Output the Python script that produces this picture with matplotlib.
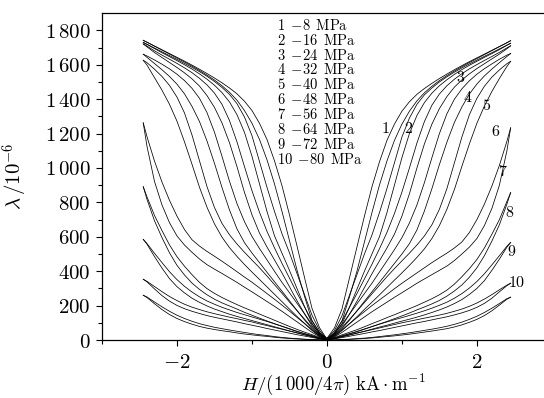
import matplotlib
matplotlib.use('Agg')
import matplotlib.pyplot as plt

plt.rcParams['mathtext.fontset'] = 'cm'
plt.rcParams['font.family'] = 'serif'
plt.rcParams['font.serif'] = ['DejaVu Serif']

# field grid for one half of the loop, |H| in (1000/4pi) kA/m
H_half = [0, 0.1, 0.2, 0.3, 0.4, 0.5, 0.6, 0.7, 0.8, 0.9, 1.0, 1.1, 1.2,
          1.3, 1.4, 1.5, 1.6, 1.7, 1.8, 1.9, 2.0, 2.1, 2.2, 2.3, 2.4, 2.45]

# magnetostriction (1e-6), H > 0 side: inner / outer branch of each loop
r_in = [
    [10, 70, 180, 360, 540, 720, 890, 1035, 1160, 1255, 1330, 1385, 1428, 1462, 1492, 1520, 1546, 1571, 1595, 1618, 1640, 1662, 1684, 1706, 1728, 1740],
    [8, 55, 140, 260, 380, 500, 610, 740, 880, 1030, 1180, 1290, 1370, 1425, 1465, 1500, 1530, 1557, 1582, 1605, 1627, 1649, 1670, 1692, 1714, 1725],
    [6, 45, 110, 190, 270, 355, 440, 530, 625, 735, 860, 1000, 1145, 1270, 1365, 1430, 1478, 1516, 1548, 1576, 1601, 1625, 1648, 1672, 1698, 1710],
    [5, 38, 90, 150, 210, 270, 330, 395, 460, 525, 595, 680, 785, 915, 1060, 1200, 1315, 1400, 1460, 1507, 1545, 1577, 1605, 1632, 1656, 1665],
    [4, 30, 72, 120, 168, 218, 268, 318, 368, 415, 460, 505, 552, 605, 670, 760, 880, 1030, 1180, 1310, 1405, 1475, 1528, 1570, 1606, 1620],
    [3, 25, 58, 94, 130, 165, 200, 233, 265, 298, 330, 360, 390, 420, 450, 478, 505, 535, 570, 625, 700, 790, 895, 1015, 1155, 1233],
    [2, 14, 30, 45, 60, 77, 95, 112, 130, 147, 165, 182, 200, 220, 240, 263, 290, 325, 368, 415, 468, 535, 615, 700, 805, 857],
    [2, 12, 25, 37, 50, 64, 78, 92, 105, 118, 130, 143, 156, 170, 185, 202, 220, 243, 270, 302, 340, 385, 437, 490, 545, 567],
    [1, 10, 20, 30, 40, 50, 60, 70, 80, 90, 100, 109, 118, 127, 136, 145, 155, 167, 180, 196, 215, 238, 264, 292, 319, 330],
    [0, 1, 3, 5, 8, 11, 15, 20, 25, 30, 36, 42, 49, 56, 63, 71, 80, 91, 104, 120, 138, 160, 185, 212, 240, 249],
]
r_out = [
    [5, 40, 110, 250, 400, 570, 740, 900, 1040, 1160, 1255, 1330, 1390, 1437, 1475, 1508, 1537, 1564, 1589, 1613, 1636, 1659, 1682, 1705, 1728, 1740],
    [5, 35, 95, 190, 295, 400, 500, 600, 740, 900, 1060, 1200, 1305, 1380, 1435, 1478, 1513, 1544, 1572, 1597, 1620, 1643, 1665, 1688, 1713, 1725],
    [4, 30, 80, 150, 225, 305, 385, 460, 535, 615, 720, 850, 1000, 1140, 1255, 1345, 1415, 1470, 1512, 1547, 1578, 1606, 1634, 1662, 1693, 1710],
    [3, 25, 65, 115, 170, 225, 280, 335, 390, 445, 500, 560, 640, 750, 880, 1020, 1150, 1265, 1355, 1430, 1488, 1535, 1575, 1612, 1648, 1665],
    [2, 20, 55, 95, 135, 178, 220, 262, 305, 348, 390, 434, 480, 530, 590, 665, 760, 875, 1010, 1140, 1260, 1360, 1445, 1520, 1590, 1620],
    [2, 18, 44, 74, 104, 134, 164, 192, 220, 248, 275, 302, 330, 355, 380, 405, 430, 462, 500, 540, 590, 665, 765, 900, 1100, 1233],
    [1, 10, 22, 35, 48, 63, 78, 93, 108, 124, 140, 157, 175, 192, 210, 230, 255, 285, 320, 365, 420, 490, 575, 670, 790, 857],
    [1, 8, 18, 29, 40, 51, 63, 75, 86, 98, 110, 121, 133, 146, 160, 175, 192, 212, 235, 265, 300, 345, 405, 470, 540, 567],
    [1, 7, 14, 22, 30, 38, 47, 55, 64, 73, 82, 91, 100, 108, 117, 126, 135, 146, 158, 172, 190, 213, 243, 280, 316, 330],
    [0, 1, 2, 4, 6, 9, 12, 16, 20, 24, 29, 34, 40, 46, 52, 59, 66, 76, 88, 103, 120, 142, 170, 203, 237, 249],
]
# H < 0 side (values at -H_half)
l_in = [
    [10, 72, 185, 365, 548, 728, 898, 1042, 1166, 1260, 1334, 1388, 1431, 1465, 1495, 1523, 1549, 1574, 1598, 1621, 1643, 1665, 1687, 1709, 1731, 1742],
    [8, 57, 145, 265, 387, 507, 618, 748, 888, 1038, 1188, 1296, 1374, 1428, 1468, 1503, 1533, 1560, 1585, 1608, 1631, 1653, 1675, 1697, 1719, 1730],
    [6, 46, 112, 193, 274, 360, 446, 536, 632, 743, 868, 1008, 1152, 1276, 1370, 1435, 1483, 1521, 1554, 1582, 1608, 1632, 1656, 1681, 1708, 1721],
    [5, 39, 92, 153, 214, 275, 335, 400, 466, 532, 602, 688, 793, 923, 1068, 1208, 1322, 1405, 1463, 1508, 1545, 1576, 1603, 1628, 1651, 1661],
    [4, 31, 73, 122, 171, 221, 272, 322, 372, 420, 465, 510, 558, 612, 678, 770, 892, 1042, 1192, 1320, 1412, 1480, 1532, 1574, 1612, 1626],
    [3, 26, 59, 96, 132, 168, 203, 237, 270, 303, 336, 366, 397, 428, 458, 487, 515, 546, 583, 642, 720, 812, 918, 1040, 1182, 1262],
    [2, 15, 31, 46, 62, 79, 97, 115, 133, 151, 169, 187, 206, 226, 247, 271, 299, 335, 380, 429, 484, 553, 636, 724, 832, 891],
    [2, 12, 26, 38, 51, 66, 80, 94, 108, 121, 134, 147, 160, 175, 190, 208, 227, 251, 279, 312, 351, 397, 450, 504, 561, 585],
    [1, 10, 21, 31, 42, 52, 63, 73, 84, 94, 105, 114, 124, 133, 143, 153, 164, 177, 191, 208, 229, 253, 281, 311, 341, 353],
    [0, 1, 3, 5, 8, 11, 15, 20, 26, 31, 37, 44, 51, 58, 66, 74, 84, 95, 109, 125, 144, 167, 193, 221, 250, 260],
]
l_out = [
    [5, 42, 114, 255, 408, 578, 748, 908, 1048, 1166, 1260, 1334, 1394, 1440, 1478, 1511, 1540, 1567, 1592, 1616, 1639, 1662, 1685, 1708, 1731, 1742],
    [5, 37, 98, 195, 300, 405, 505, 606, 748, 908, 1068, 1207, 1310, 1384, 1438, 1481, 1516, 1547, 1575, 1600, 1624, 1647, 1670, 1694, 1718, 1730],
    [4, 31, 82, 153, 229, 310, 390, 466, 541, 622, 728, 858, 1008, 1147, 1262, 1352, 1421, 1476, 1518, 1553, 1584, 1613, 1642, 1671, 1704, 1721],
    [3, 26, 66, 117, 172, 228, 284, 339, 394, 450, 506, 566, 646, 756, 887, 1027, 1157, 1270, 1358, 1431, 1487, 1532, 1571, 1607, 1643, 1661],
    [2, 21, 56, 97, 137, 180, 223, 266, 309, 352, 395, 439, 486, 537, 598, 675, 772, 888, 1022, 1152, 1272, 1370, 1452, 1525, 1598, 1626],
    [2, 19, 45, 75, 106, 136, 167, 196, 224, 252, 280, 307, 335, 361, 387, 412, 438, 471, 510, 552, 605, 682, 785, 922, 1126, 1262],
    [1, 10, 23, 36, 49, 64, 80, 95, 111, 127, 144, 161, 180, 198, 216, 237, 263, 294, 331, 378, 434, 507, 595, 693, 818, 891],
    [1, 8, 19, 30, 41, 53, 65, 77, 89, 101, 113, 125, 137, 150, 165, 180, 198, 219, 243, 274, 310, 357, 418, 485, 557, 585],
    [1, 7, 15, 23, 31, 40, 49, 58, 67, 77, 86, 95, 105, 114, 123, 132, 142, 154, 167, 182, 201, 226, 258, 297, 338, 353],
    [0, 1, 2, 4, 6, 9, 12, 16, 21, 25, 30, 35, 41, 48, 54, 61, 69, 79, 92, 107, 125, 148, 177, 211, 247, 260],
]

curve_ids = ['1', '2', '3', '4', '5', '6', '7', '8', '9', '10']
stress = [8, 16, 24, 32, 40, 48, 56, 64, 72, 80]  # MPa

xticks = [-2, 0, 2]
xtick_labels = [r'$-2$', r'$0$', r'$2$']
yticks = [0, 200, 400, 600, 800, 1000, 1200, 1400, 1600, 1800]
ytick_labels = [r'$0$', r'$200$', r'$400$', r'$600$', r'$800$', r'$1\,000$',
                r'$1\,200$', r'$1\,400$', r'$1\,600$', r'$1\,800$']

fig = plt.figure(figsize=(5.44, 3.98), dpi=100)
ax = fig.add_axes([0.1875, 0.1457, 0.827, 0.8213])

neg = [-h for h in H_half[::-1]]
for k in range(len(curve_ids)):
    # branch a: left inner -> right outer, branch b: left outer -> right inner
    xs = neg[:-1] + H_half
    ya = l_in[k][::-1][:-1] + r_out[k]
    yb = l_out[k][::-1][:-1] + r_in[k]
    ax.plot(xs, ya, color='black', lw=0.55)
    ax.plot(xs, yb, color='black', lw=0.55)

# curve numbers
label_pos = [(0.78, 1227), (1.09, 1232), (1.78, 1528), (1.88, 1412), (2.13, 1366),
             (2.25, 1210), (2.34, 980), (2.44, 743), (2.46, 517), (2.53, 334)]
for cid, (lx, ly) in zip(curve_ids, label_pos):
    ax.text(lx, ly, '$' + cid + '$', fontsize=11.5, ha='center', va='center')

# list of compressive stresses
for i, (cid, s) in enumerate(zip(curve_ids, stress)):
    ax.text(-0.66, 1829 - 86.5 * i, r'$%s\ \,{-}%d\ \,\mathrm{MPa}$' % (cid, s),
            fontsize=10.5, ha='left', va='center')

ax.set_xlim(-3, 3)
ax.set_ylim(0, 1900)
ax.set_xticks(xticks)
ax.set_xticklabels(xtick_labels)
ax.set_xticks([-3, -1, 1, 3], minor=True)
ax.set_yticks(yticks)
ax.set_yticklabels(ytick_labels)
ax.set_yticks(range(100, 1900, 200), minor=True)
ax.tick_params(which='both', direction='out', top=False, right=False,
               labelsize=15, width=0.8)
ax.tick_params(which='major', length=4.5)
ax.tick_params(which='minor', length=2.8)
ax.tick_params(axis='x', which='major', pad=4.5)
for sp in ax.spines.values():
    sp.set_linewidth(0.9)

ax.set_xlabel(r'$H/(1\,000/4\pi)\ \mathrm{kA\cdot m^{-1}}$', fontsize=13.5, va='center')
ax.set_ylabel(r'$\lambda\,/10^{-6}$', fontsize=15, va='center')
ax.xaxis.set_label_coords(0.513, -0.136)
ax.yaxis.set_label_coords(-0.193, 0.5)

fig.savefig('out.png', dpi=100)
